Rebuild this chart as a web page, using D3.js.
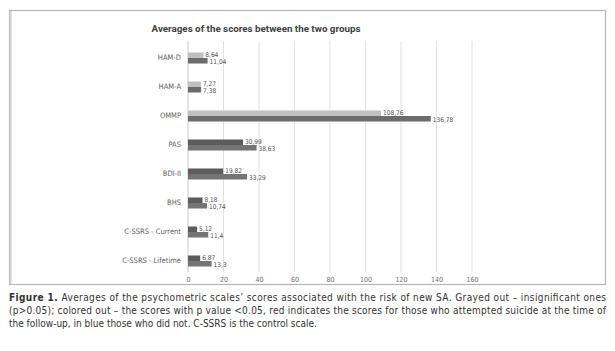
<!DOCTYPE html>
<html>
<head>
<meta charset="utf-8">
<script src="https://cdn.jsdelivr.net/npm/d3@7"></script>
<style>
  body { margin: 0; background: #fff; }
  svg { display: block; }
</style>
</head>
<body>
<div class="chart"></div>
<script>
const categories = ["HAM-D", "HAM-A", "OMMP", "PAS", "BDI-II", "BHS", "C-SSRS - Current", "C-SSRS  - Lifetime"];
const attempted = [8.64, 7.27, 108.76, 30.99, 19.82, 8.18, 5.12, 6.87];
const notAttempted = [11.04, 7.38, 136.78, 38.63, 33.29, 10.74, 11.4, 13.3];
const insignificant = ["HAM-D", "HAM-A", "OMMP"];
const xTicks = [0, 20, 40, 60, 80, 100, 120, 140, 160];
const captionLines = [
  "Averages of the psychometric scales\u2019 scores associated with the risk of new SA. Grayed out \u2013 insignificant ones",
  "(p>0.05); colored out \u2013 the scores with p value <0.05, red indicates the scores for those who attempted suicide at the time of",
  "the follow-up, in blue those who did not. C-SSRS is the control scale."
];

const narrow = "'Liberation Sans Narrow', 'DejaVu Sans Condensed', Roboto, sans-serif";
const width = 615, height = 351;
const svg = d3.select(".chart").append("svg")
  .attr("width", width)
  .attr("height", height);

// chart frame
svg.append("rect")
  .attr("x", 9.5).attr("y", 10.5)
  .attr("width", 596).attr("height", 274)
  .attr("fill", "#fff")
  .attr("stroke", "#b5b5b5")
  .attr("stroke-width", 1.2);
svg.append("line")
  .attr("x1", 10.5).attr("x2", 10.5).attr("y1", 11).attr("y2", 284)
  .attr("stroke", "#d0d0d0").attr("stroke-width", 2);

svg.append("text")
  .attr("x", 256).attr("y", 32)
  .attr("text-anchor", "middle")
  .attr("font-family", "Roboto, sans-serif")
  .attr("font-weight", "bold")
  .attr("font-size", 9.8)
  .attr("fill", "#404040")
  .text("Averages of the scores between the two groups");

const x = d3.scaleLinear().domain([0, 160]).range([188, 472]);
const y = d3.scaleBand().domain(categories).range([43.5, 275.5])
  .paddingInner(0.62).paddingOuter(0.31);
const ySeries = d3.scaleBand().domain(["a", "b"]).range([0, y.bandwidth()]);

// gridlines
svg.append("g").selectAll("line")
  .data(xTicks)
  .enter().append("line")
  .attr("x1", d => x(d)).attr("x2", d => x(d))
  .attr("y1", 41).attr("y2", 272)
  .attr("stroke", d => d === 0 ? "#c8c8c8" : "#e0e0e0")
  .attr("stroke-width", 1);

// x axis labels
svg.append("g")
  .attr("transform", "translate(0,272)")
  .call(d3.axisBottom(x).tickValues(xTicks).tickSize(0).tickPadding(5))
  .call(g => g.select(".domain").remove())
  .call(g => g.selectAll("text")
    .attr("font-family", narrow)
    .attr("font-size", 7)
    .attr("fill", "#707070"));

// category labels
svg.append("g")
  .attr("transform", `translate(${x(0) - 7},0)`)
  .call(d3.axisLeft(y).tickSize(0).tickPadding(0))
  .call(g => g.select(".domain").remove())
  .call(g => g.selectAll("text")
    .attr("font-family", narrow)
    .attr("font-size", 7.5)
    .attr("fill", "#606060"));

const rows = categories.map((c, i) => ({
  cat: c,
  vals: [
    { key: "a", v: attempted[i], color: insignificant.includes(c) ? "#c0c0c0" : "#5c5c5c" },
    { key: "b", v: notAttempted[i], color: insignificant.includes(c) ? "#6c6c6c" : "#747474" }
  ]
}));

const groups = svg.append("g").selectAll("g")
  .data(rows)
  .enter().append("g")
  .attr("transform", d => `translate(0,${y(d.cat)})`);

groups.selectAll("rect")
  .data(d => d.vals)
  .enter().append("rect")
  .attr("x", x(0))
  .attr("y", d => ySeries(d.key))
  .attr("width", d => x(d.v) - x(0))
  .attr("height", ySeries.bandwidth())
  .attr("fill", d => d.color);

// labels of a pair nudged apart a little so they don't sit on each other
const fmt = v => String(v).replace(".", ",");
groups.selectAll("text")
  .data(d => d.vals)
  .enter().append("text")
  .attr("x", d => x(d.v) + 2)
  .attr("y", d => ySeries(d.key) + ySeries.bandwidth() / 2 + 2.3 + (d.key === "a" ? -1 : 1))
  .attr("font-family", narrow)
  .attr("font-size", 6.5)
  .attr("fill", "#505050")
  .text(d => fmt(d.v));

// caption
const cap = svg.append("g")
  .attr("font-family", narrow)
  .attr("font-size", 10)
  .attr("fill", "#333");

const first = cap.append("text").attr("x", 9).attr("y", 301)
  .attr("textLength", 597).attr("lengthAdjust", "spacing");
first.append("tspan").attr("font-weight", "bold").text("Figure 1. ");
first.append("tspan").text(captionLines[0]);

cap.append("text").attr("x", 9).attr("y", 314)
  .attr("textLength", 597).attr("lengthAdjust", "spacing")
  .text(captionLines[1]);
cap.append("text").attr("x", 9).attr("y", 327)
  .text(captionLines[2]);
</script>
</body>
</html>
